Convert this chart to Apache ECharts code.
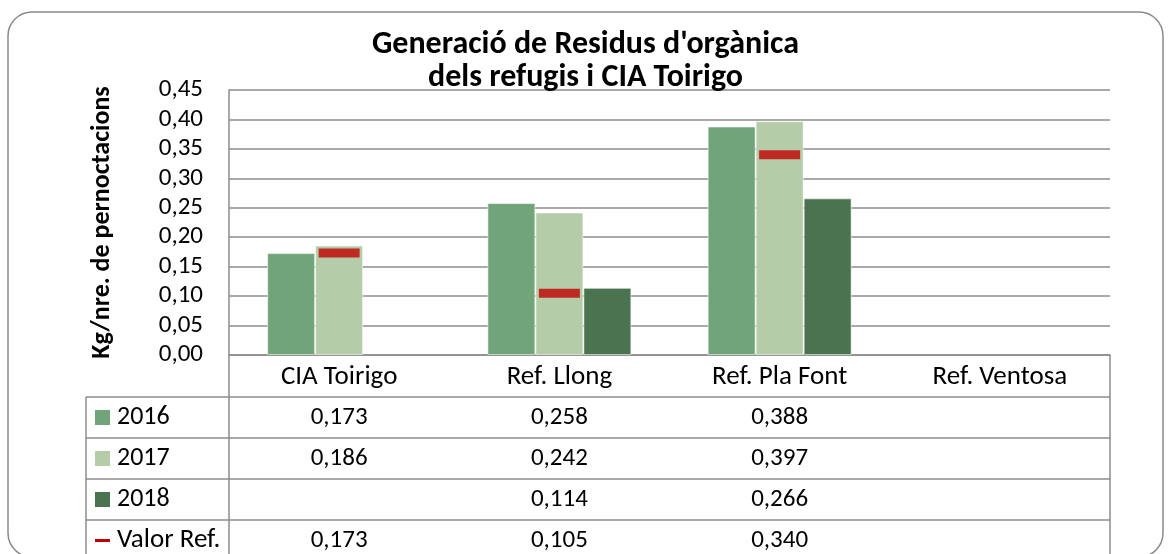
<!DOCTYPE html>
<html>
<head>
<meta charset="utf-8">
<script src="https://cdn.jsdelivr.net/npm/echarts@6/dist/echarts.min.js"></script>
<style>
  html, body { margin: 0; padding: 0; background: #ffffff; }
  #chart { width: 1171px; height: 554px; }
</style>
</head>
<body>
<div id="chart"></div>
<script>
// Categories and series values
const categories = ['CIA Toirigo', 'Ref. Llong', 'Ref. Pla Font', 'Ref. Ventosa'];
const s2016 = [0.173, 0.258, 0.388, null];
const s2017 = [0.186, 0.242, 0.397, null];
const s2018 = [null, 0.114, 0.266, null];
const valorRef = [0.173, 0.105, 0.340, null];
const seriesNames = ['2016', '2017', '2018', 'Valor Ref.'];

const FONT = 'Carlito, Lato, sans-serif';
const NUM = 25;   // numeric labels
const TXT = 27;   // word labels
const GRID_COLOR = '#8c8c8c';
const colors = ['#72a47a', '#b5cca8', '#4a7450', '#c00000'];

const fmt = (v, d) => v.toFixed(d).replace('.', ',');

const chart = echarts.init(document.getElementById('chart'), null, { renderer: 'canvas' });

const grid = { left: 229, right: 61, top: 90, bottom: 199 };

const barStyle = (c) => ({ color: c, borderColor: 'rgba(255,255,255,0.55)', borderWidth: 1 });

chart.setOption({
  animation: false,
  backgroundColor: '#ffffff',
  title: {
    text: "Generació de Residus d'orgànica\ndels refugis i CIA Toirigo",
    left: 'center',
    top: 23,
    textStyle: { fontFamily: FONT, fontWeight: 'bold', fontSize: 32, lineHeight: 33, color: '#000' }
  },
  grid: grid,
  xAxis: {
    type: 'category',
    data: categories,
    axisLine: { show: true, lineStyle: { color: GRID_COLOR, width: 1.5 } },
    axisTick: { show: false },
    axisLabel: { fontFamily: FONT, fontSize: TXT, color: '#000', margin: 9 }
  },
  yAxis: {
    type: 'value',
    min: 0,
    max: 0.45,
    interval: 0.05,
    name: 'Kg/nre. de pernoctacions',
    nameLocation: 'middle',
    nameGap: 114,
    nameTextStyle: { fontFamily: FONT, fontWeight: 'bold', fontSize: 26, color: '#000' },
    axisLine: { show: true, lineStyle: { color: GRID_COLOR, width: 1.5 } },
    axisTick: { show: false },
    splitLine: { lineStyle: { color: GRID_COLOR, width: 1.5 } },
    axisLabel: { fontFamily: FONT, fontSize: NUM, color: '#000', margin: 26, formatter: (v) => fmt(v, 2) }
  },
  series: [
    { name: seriesNames[0], type: 'bar', data: s2016, barWidth: 48, barGap: '0%', itemStyle: barStyle(colors[0]) },
    { name: seriesNames[1], type: 'bar', data: s2017, barWidth: 48, barGap: '0%', itemStyle: barStyle(colors[1]) },
    { name: seriesNames[2], type: 'bar', data: s2018, barWidth: 48, barGap: '0%', itemStyle: barStyle(colors[2]) },
    {
      name: seriesNames[3], type: 'scatter', data: valorRef,
      symbol: 'rect', symbolSize: [41, 9], z: 5,
      itemStyle: { color: colors[3] }
    }
  ]
});

// Data table under the plot: legend keys on the left, values per category
const plotLeft = grid.left;
const plotRight = 1171 - grid.right;
const axisY = 554 - grid.bottom;
const tableLeft = 86;
const rowTops = [397, 438, 479, 520];
const rowH = 41;
const tableBottom = 600;
const rows = [s2016, s2017, s2018, valorRef];

const g = [];
const line = (x1, y1, x2, y2) => g.push({
  type: 'line', shape: { x1, y1, x2, y2 }, silent: true,
  style: { stroke: GRID_COLOR, lineWidth: 1.5 }
});

// outer chart frame
g.push({
  type: 'rect', shape: { x: 8, y: 12, width: 1155, height: 545, r: 24 }, silent: true,
  style: { fill: 'none', stroke: '#8a8a8a', lineWidth: 1.5 }, z: -1
});

rowTops.forEach((y) => line(tableLeft, y, plotRight, y));
line(plotLeft, axisY, plotLeft, tableBottom);
line(plotRight, axisY, plotRight, tableBottom);
line(tableLeft, rowTops[0], tableLeft, tableBottom);

rows.forEach((vals, r) => {
  const cy = rowTops[r] + rowH / 2;
  // legend key
  if (r < 3) {
    g.push({ type: 'rect', shape: { x: 95, y: cy - 7.5, width: 15, height: 15 }, silent: true, style: { fill: colors[r] } });
  } else {
    g.push({ type: 'rect', shape: { x: 95, y: cy - 1.5, width: 15, height: 3 }, silent: true, style: { fill: colors[r] } });
  }
  g.push({
    type: 'text', x: 117, y: cy, silent: true,
    style: { text: seriesNames[r], font: (r < 3 ? NUM + 1 : TXT) + 'px ' + FONT, fill: '#000', textVerticalAlign: 'middle', verticalAlign: 'middle' }
  });
  vals.forEach((v, i) => {
    if (v == null) return;
    const cx = chart.convertToPixel({ xAxisIndex: 0 }, i);
    g.push({
      type: 'text', x: cx, y: cy, silent: true,
      style: { text: fmt(v, 3), font: NUM + 'px ' + FONT, fill: '#000', align: 'center', textAlign: 'center', verticalAlign: 'middle', textVerticalAlign: 'middle' }
    });
  });
});

chart.setOption({ graphic: { elements: g } });
</script>
</body>
</html>
